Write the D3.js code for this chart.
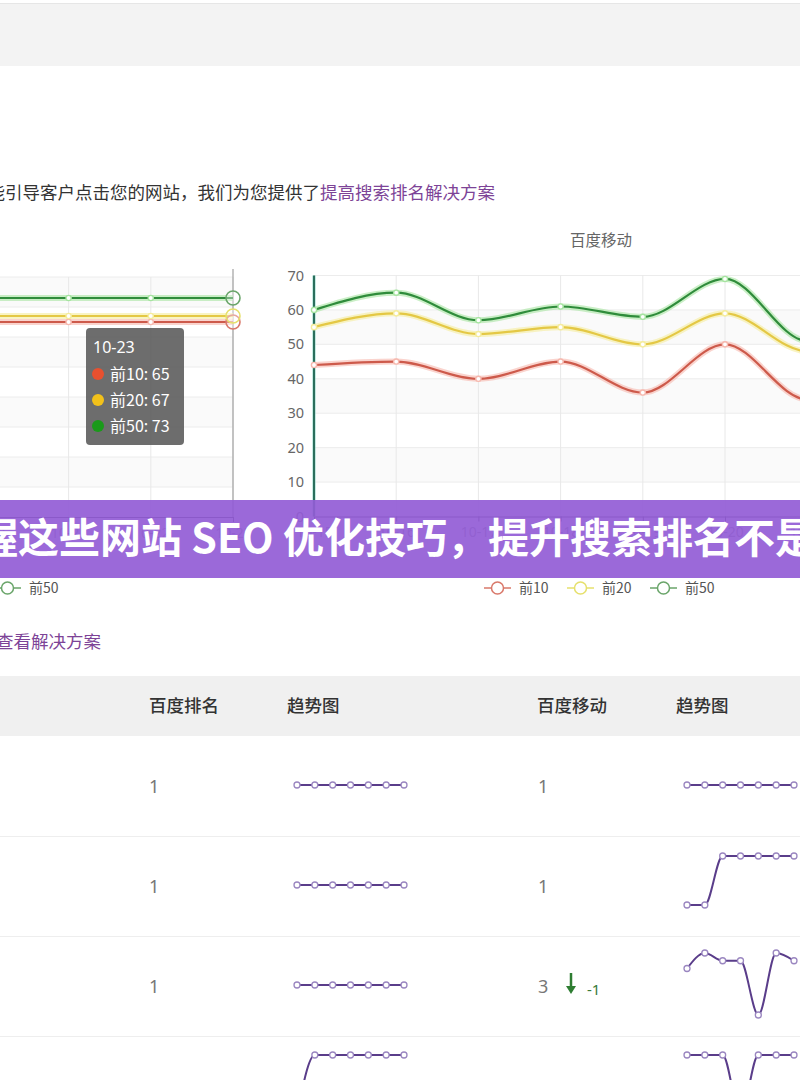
<!DOCTYPE html>
<html><head><meta charset="utf-8">
<script src="https://cdn.jsdelivr.net/npm/d3@7"></script>
<style>
html,body{margin:0;padding:0;background:#fff;}
svg{display:block;font-family:"Noto Sans CJK SC","Noto Sans",sans-serif;}
</style></head><body>
<svg id="c" width="800" height="1080"></svg>
<script>
// ---------- data ----------
const dates = ["10-15","10-16","10-17","10-18","10-19","10-20","10-21","10-22","10-23"];
const seriesNames = ["前10","前20","前50"];
// 百度排名 (left chart, mostly off-screen)
const leftTop10 = [65,65,65,65,65,65,65,65,65];
const leftTop20 = [67,67,67,67,67,67,67,67,67];
const leftTop50 = [73,73,73,73,73,73,73,73,73];
// 百度移动 (right chart)
const rightTop10 = [44,45,40,45,36,50,34,38,40];
const rightTop20 = [55,59,53,55,50,59,48,50,52];
const rightTop50 = [60,65,57,61,58,69,51,55,58];
const leftYTicks = [0,10,20,30,40,50,60,70,80];
const rightYTicks = [0,10,20,30,40,50,60,70];
const tooltipIndex = 8;
const rightTitle = "百度移动";
const introText = "能引导客户点击您的网站，我们为您提供了";
const introLink = "提高搜索排名解决方案";
const bannerText = "掌握这些网站 SEO 优化技巧，提升搜索排名不是难事";
const tableLink = "查看解决方案";
const tableHeaders = ["百度排名","趋势图","百度移动","趋势图"];
const baiduRank = [1,1,1];
const mobileRank = [1,1,3];
const mobileChange = [0,0,-1];
const rankTrend = [
  [1,1,1,1,1,1,1],
  [1,1,1,1,1,1,1],
  [1,1,1,1,1,1,1],
  [3,1,1,1,1,1,1]
];
const mobileTrend = [
  [1,1,1,1,1,1,1],
  [2,2,1,1,1,1,1],
  [4,2,3,3,10,2,3],
  [1,1,1,5,1,1,1]
];

// ---------- styles ----------
const lineColors = ["#cd5a4b","#e4c845","#2f8c3b"];
const glowColors = ["#f6b8ae","#f5ec9c","#a6e4a0"];
const dotColors  = ["#e8502f","#f2c11a","#1a9a1a"];
const legendColors = ["#d9786a","#e6e06c","#6aa56a"];
const svg = d3.select("#c");

// top band
svg.append("rect").attr("x",0).attr("y",4).attr("width",800).attr("height",62).attr("fill","#f3f3f3");
svg.append("line").attr("x1",0).attr("x2",800).attr("y1",3.5).attr("y2",3.5).attr("stroke","#e6e6e6");

// intro text
svg.append("text").attr("x",320).attr("y",199).attr("text-anchor","end")
  .attr("font-size",17.5).attr("fill","#333").text(introText);
svg.append("text").attr("x",320).attr("y",199).attr("font-size",17.5).attr("fill","#7d4397").text(introLink);

// ---------- line chart helper ----------
function lineChart(cfg){
  const g = svg.append("g");
  const x = d3.scalePoint().domain(dates).range(cfg.xRange);
  const y = d3.scaleLinear().domain([0, d3.max(cfg.ticks)]).range(cfg.yRange);
  for(let i=0;i<cfg.ticks.length-1;i++){
    g.append("rect").attr("x",cfg.xRange[0]).attr("width",cfg.xRange[1]-cfg.xRange[0])
      .attr("y",y(cfg.ticks[i+1])).attr("height",y(cfg.ticks[i])-y(cfg.ticks[i+1]))
      .attr("fill", i%2===1 ? "#fafafa" : "#ffffff");
  }
  g.selectAll(".hg").data(cfg.ticks.slice(1)).join("line")
    .attr("x1",cfg.xRange[0]).attr("x2",cfg.xRange[1]).attr("y1",d=>y(d)).attr("y2",d=>y(d))
    .attr("stroke","#ececec");
  g.selectAll(".vg").data(dates.slice(1)).join("line")
    .attr("x1",d=>x(d)).attr("x2",d=>x(d)).attr("y1",cfg.yRange[1]).attr("y2",cfg.yRange[0])
    .attr("stroke","#e8e8e8");
  const yAxis = d3.axisLeft(y).tickValues(cfg.ticks).tickSize(0).tickPadding(10);
  const ya = g.append("g").attr("transform",`translate(${cfg.xRange[0]},0)`).call(yAxis);
  ya.select(".domain").remove();
  ya.selectAll("text").attr("font-size",14.5).attr("fill","#666").attr("font-family","Noto Sans, sans-serif");
  const xAxis = d3.axisBottom(x).tickSize(5).tickPadding(6);
  const xa = g.append("g").attr("transform",`translate(0,${cfg.yRange[0]})`).call(xAxis);
  xa.select(".domain").attr("stroke","#333");
  xa.selectAll(".tick line").attr("stroke","#333");
  xa.selectAll("text").attr("font-size",14).attr("fill","#888").attr("font-family","Noto Sans, sans-serif");
  g.append("line").attr("x1",cfg.xRange[0]).attr("x2",cfg.xRange[0]).attr("y1",cfg.yRange[1]).attr("y2",cfg.yRange[0])
    .attr("stroke","#8fd8c8").attr("stroke-width",4).attr("opacity",0.5);
  g.append("line").attr("x1",cfg.xRange[0]).attr("x2",cfg.xRange[0]).attr("y1",cfg.yRange[1]).attr("y2",cfg.yRange[0])
    .attr("stroke","#2b6e5c").attr("stroke-width",2);
  if(cfg.pointer!==undefined){
    g.append("line").attr("x1",x(dates[cfg.pointer])).attr("x2",x(dates[cfg.pointer]))
      .attr("y1",cfg.yRange[1]-8).attr("y2",cfg.yRange[0]).attr("stroke","#a8a8a8").attr("stroke-width",1.3);
  }
  const line = d3.line().x((d,i)=>x(dates[i])).y(d=>y(d)).curve(d3.curveMonotoneX);
  cfg.series.forEach((s,k)=>{
    g.append("path").attr("d",line(s)).attr("fill","none").attr("stroke",glowColors[k]).attr("stroke-width",6).attr("opacity",0.6);
    g.append("path").attr("d",line(s)).attr("fill","none").attr("stroke",lineColors[k]).attr("stroke-width",2.2);
  });
  cfg.series.forEach((s,k)=>{
    g.selectAll(null).data(s).join("circle")
      .attr("cx",(d,i)=>x(dates[i])).attr("cy",d=>y(d))
      .attr("r",(d,i)=> i===cfg.pointer ? 7 : 2.6)
      .attr("fill",(d,i)=> i===cfg.pointer ? "rgba(255,255,255,0.35)" : "#fff")
      .attr("stroke",(d,i)=> i===cfg.pointer ? legendColors[k] : glowColors[k])
      .attr("stroke-width",(d,i)=> i===cfg.pointer ? 1.6 : 1.4);
  });
  return {x,y};
}

const step = 82.2;
lineChart({xRange:[233-8*step,233], yRange:[517,277], ticks:leftYTicks,
  series:[leftTop10,leftTop20,leftTop50], pointer:tooltipIndex});
lineChart({xRange:[314,314+8*step], yRange:[516.5,275.5], ticks:rightYTicks,
  series:[rightTop10,rightTop20,rightTop50]});

svg.append("text").attr("x",601).attr("y",246).attr("text-anchor","middle").attr("font-size",15.5).attr("fill","#666").text(rightTitle);

// tooltip
const tip = svg.append("g").attr("transform","translate(86,328)");
tip.append("rect").attr("width",98).attr("height",117).attr("rx",4).attr("fill","rgba(85,85,85,0.86)");
tip.append("text").attr("x",7).attr("y",25).attr("font-size",16).attr("fill","#fff").attr("font-family","Noto Sans, sans-serif").text(dates[tooltipIndex]);
const leftSeries=[leftTop10,leftTop20,leftTop50];
seriesNames.forEach((n,k)=>{
  tip.append("circle").attr("cx",12).attr("cy",46+k*26).attr("r",6).attr("fill",dotColors[k]);
  tip.append("text").attr("x",24).attr("y",52+k*26).attr("font-size",16).attr("fill","#fff")
    .text(`${n}: ${leftSeries[k][tooltipIndex]}`);
});

// banner
svg.append("rect").attr("x",0).attr("y",500).attr("width",800).attr("height",78).attr("fill","rgba(146,92,214,0.92)");
svg.append("text").attr("x",-64).attr("y",553).attr("font-size",41).attr("font-weight",700).attr("fill","#fff").text(bannerText);

// legends
function legend(startX, items){
  let xx = startX;
  items.forEach(it=>{
    const g = svg.append("g").attr("transform",`translate(${xx},588)`);
    g.append("line").attr("x1",0).attr("x2",27).attr("stroke",legendColors[it]).attr("stroke-width",1.5);
    g.append("circle").attr("cx",13.5).attr("r",6).attr("fill","#fff").attr("stroke",legendColors[it]).attr("stroke-width",1.5);
    g.append("text").attr("x",35).attr("y",5).attr("font-size",14).attr("fill","#555").text(seriesNames[it]);
    xx += 83;
  });
}
legend(484,[0,1,2]);
legend(-6-166,[0,1,2]);

// table link
svg.append("text").attr("x",101).attr("y",648).attr("text-anchor","end").attr("font-size",17.5).attr("fill","#7d4397").text(tableLink);

// table header
svg.append("rect").attr("x",0).attr("y",676).attr("width",800).attr("height",60).attr("fill","#f0f0f0");
const headerX = [149,287,537,676];
tableHeaders.forEach((h,i)=>{
  svg.append("text").attr("x",headerX[i]).attr("y",712).attr("font-size",17.5).attr("font-weight",500).attr("fill","#333").text(h);
});
const rowTop = 736, rowH = 100;
for(let r=1;r<4;r++){
  svg.append("line").attr("x1",0).attr("x2",800).attr("y1",rowTop+r*rowH+0.5).attr("y2",rowTop+r*rowH+0.5).attr("stroke","#eeeeee");
}
baiduRank.forEach((v,r)=>{
  const cy = rowTop + r*rowH + rowH/2;
  svg.append("text").attr("x",149).attr("y",cy+7).attr("font-size",18).attr("fill","#777").attr("font-family","Noto Sans, sans-serif").text(v);
  svg.append("text").attr("x",538).attr("y",cy+7).attr("font-size",18).attr("fill","#777").attr("font-family","Noto Sans, sans-serif").text(mobileRank[r]);
  if(mobileChange[r]<0){
    svg.append("path").attr("d",`M571,${cy-13}V${cy+2}`).attr("stroke","#2e7d32").attr("stroke-width",2.5);
    svg.append("path").attr("d",`M566,${cy}L576,${cy}L571,${cy+8}Z`).attr("fill","#2e7d32");
    svg.append("text").attr("x",587).attr("y",cy+9).attr("font-size",15).attr("fill","#3a7a3a").attr("font-family","Noto Sans, sans-serif").text(mobileChange[r]);
  }
});
const sparkPad = [[-30,30],[-29,20],[-32,30],[-30,30]];
function spark(vals, x0, r){
  const cy = rowTop + r*rowH + rowH/2 - 1;
  const x = d3.scaleLinear().domain([0,vals.length-1]).range([x0, x0+107]);
  const ext = d3.extent(vals);
  const y = ext[0]===ext[1] ? (()=>cy) : d3.scaleLinear().domain(ext).range([cy+sparkPad[r][0], cy+sparkPad[r][1]]);
  const line = d3.line().x((d,i)=>x(i)).y(d=>y(d)).curve(d3.curveMonotoneX);
  svg.append("path").attr("d",line(vals)).attr("fill","none").attr("stroke","#5a3d8a").attr("stroke-width",2);
  svg.selectAll(null).data(vals).join("circle").attr("cx",(d,i)=>x(i)).attr("cy",d=>y(d)).attr("r",3)
    .attr("fill","#fff").attr("stroke","#9a86c0").attr("stroke-width",1.3);
}
rankTrend.forEach((v,r)=>spark(v,297,r));
mobileTrend.forEach((v,r)=>spark(v,687,r));
</script></body></html>
